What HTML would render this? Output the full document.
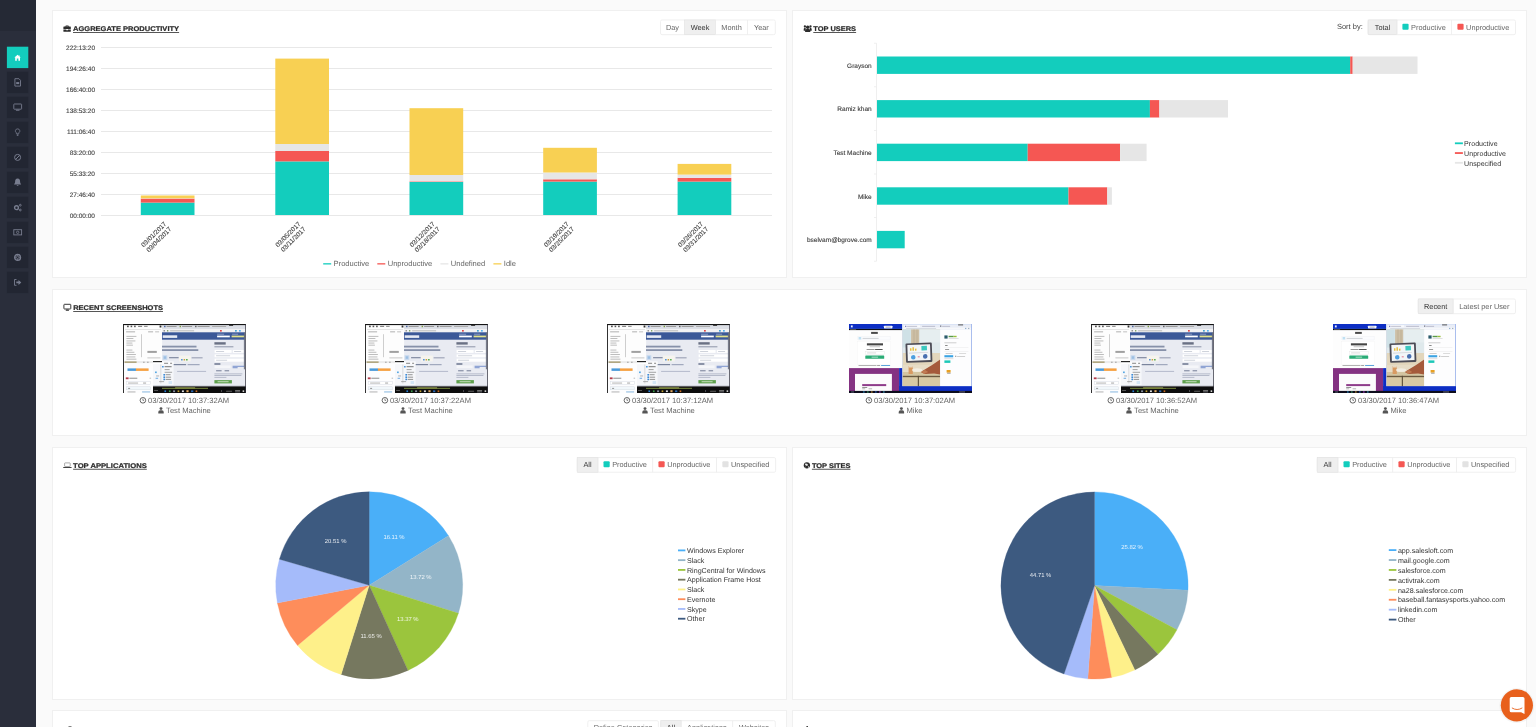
<!DOCTYPE html>
<html><head><meta charset="utf-8"><title>Dashboard</title>
<style>
html,body{margin:0;padding:0;}
body{width:1536px;height:727px;overflow:hidden;background:#fafafa;font-family:"Liberation Sans",sans-serif;position:relative;color:#444;}
#root{position:absolute;left:0;top:0;width:1536px;height:727px;will-change:transform;}
.sidebar{position:absolute;left:0;top:0;width:36px;height:727px;background:#2a2e3b;}
.sidebar .top{position:absolute;left:0;top:0;width:36px;height:31px;background:#252935;}
.panel{position:absolute;background:#fff;border:1px solid #f0f0f0;box-sizing:border-box;}
svg text{font-family:"Liberation Sans",sans-serif;text-rendering:geometricPrecision;}
#ov{position:absolute;left:0;top:0;}
.t{font-weight:bold;font-size:6.75px;fill:#2c2c2c;stroke:#2c2c2c;stroke-width:0.22px;}
.b{font-size:7.35px;fill:#666;}
.b.on{fill:#333;}
.lg{font-size:7.1px;fill:#333;}
.cap{font-size:7.6px;fill:#666;}
.ax{font-size:6.5px;fill:#444;stroke:#444;stroke-width:0.12px;}
.pl{font-size:5.9px;fill:#fff;fill-opacity:0.88;}
</style></head><body><div id="root">

<div class="sidebar"><div class="top"></div></div>
<div class="panel" style="left:52px;top:10px;width:735px;height:268px"></div>
<div class="panel" style="left:792px;top:10px;width:735px;height:268px"></div>
<div class="panel" style="left:52px;top:289px;width:1475px;height:147px"></div>
<div class="panel" style="left:52px;top:447px;width:735px;height:253px"></div>
<div class="panel" style="left:792px;top:447px;width:735px;height:253px"></div>
<div class="panel" style="left:52px;top:710px;width:735px;height:40px"></div>
<div class="panel" style="left:792px;top:710px;width:735px;height:40px"></div>
<svg id="ov" width="1536" height="727" viewBox="0 0 1536 727">
<g transform="translate(6.9,46.7)"><rect width="21.4" height="21.4" fill="#13cdbd"/><path d="M10.7 8.0 L7.5 10.9 L8.3 10.9 L8.3 14.1 L9.9 14.1 L9.9 11.9 L11.5 11.9 L11.5 14.1 L13.1 14.1 L13.1 10.9 L13.9 10.9 Z" fill="#fff"/><rect x="12.3" y="8.4" width="0.7" height="1.4" fill="#fff" opacity="0.5"/></g>
<g transform="translate(6.9,71.7)"><rect width="21.4" height="21.4" fill="#222632"/><path d="M8 7 H12 L13.6 8.6 V14.4 H8 Z" fill="none" stroke="#787d8f" stroke-width="0.9"/><rect x="9.3" y="10.4" width="3" height="2" fill="#787d8f"/></g>
<g transform="translate(6.9,96.7)"><rect width="21.4" height="21.4" fill="#222632"/><rect x="6.9" y="7.3" width="7.8" height="5.2" rx="0.5" fill="none" stroke="#787d8f" stroke-width="0.9"/><rect x="9" y="13" width="3.6" height="1" fill="#787d8f"/></g>
<g transform="translate(6.9,121.7)"><rect width="21.4" height="21.4" fill="#222632"/><path d="M10.7 7.2 a2.1 2.1 0 0 1 1.2 3.9 v1 h-2.4 v-1 a2.1 2.1 0 0 1 1.2 -3.9 Z" fill="none" stroke="#787d8f" stroke-width="0.8"/><rect x="9.9" y="12.7" width="1.6" height="1.4" fill="#787d8f"/></g>
<g transform="translate(6.9,146.7)"><rect width="21.4" height="21.4" fill="#222632"/><circle cx="10.7" cy="10.7" r="3" fill="none" stroke="#787d8f" stroke-width="1"/><path d="M8.6 12.8 L12.8 8.6" stroke="#787d8f" stroke-width="1"/></g>
<g transform="translate(6.9,171.7)"><rect width="21.4" height="21.4" fill="#222632"/><path d="M10.7 6.9 c2 0 2.5 1.6 2.5 3.2 c0 1.3 0.5 2 1.1 2.6 h-7.2 c0.6 -0.6 1.1 -1.3 1.1 -2.6 c0 -1.6 0.5 -3.2 2.5 -3.2 Z M9.8 13.2 h1.8 a0.9 0.9 0 0 1 -1.8 0 Z" fill="#787d8f"/></g>
<g transform="translate(6.9,196.7)"><rect width="21.4" height="21.4" fill="#222632"/><circle cx="9.6" cy="11" r="1.9" fill="none" stroke="#787d8f" stroke-width="1.4"/><circle cx="13.4" cy="8.5" r="0.9" fill="none" stroke="#787d8f" stroke-width="0.9"/><circle cx="13.4" cy="13.3" r="0.9" fill="none" stroke="#787d8f" stroke-width="0.9"/></g>
<g transform="translate(6.9,221.7)"><rect width="21.4" height="21.4" fill="#222632"/><rect x="6.9" y="8" width="7.8" height="5.2" fill="none" stroke="#787d8f" stroke-width="0.9"/><circle cx="10.8" cy="10.6" r="1.2" fill="none" stroke="#787d8f" stroke-width="0.8"/></g>
<g transform="translate(6.9,246.7)"><rect width="21.4" height="21.4" fill="#222632"/><circle cx="10.7" cy="10.7" r="2.9" fill="none" stroke="#787d8f" stroke-width="1.4"/><circle cx="10.7" cy="10.7" r="1.2" fill="none" stroke="#787d8f" stroke-width="0.7"/><path d="M10.7 7.4 V9.4 M10.7 12 V14 M7.4 10.7 H9.4 M12 10.7 H14" stroke="#787d8f" stroke-width="0.7"/></g>
<g transform="translate(6.9,271.7)"><rect width="21.4" height="21.4" fill="#222632"/><path d="M9.6 7.8 H7.6 V13.6 H9.6" fill="none" stroke="#787d8f" stroke-width="0.9"/><path d="M9.4 9.8 H11.6 V8.2 L14.4 10.7 L11.6 13.2 V11.6 H9.4 Z" fill="#787d8f"/></g>
<text class="t" x="73.0" y="31.2" textLength="106.1" lengthAdjust="spacingAndGlyphs">AGGREGATE PRODUCTIVITY</text><rect x="73.0" y="32.2" width="106.1" height="0.8" fill="#2c2c2c"/>
<text class="t" x="813.3" y="31.2" textLength="42.8" lengthAdjust="spacingAndGlyphs">TOP USERS</text><rect x="813.3" y="32.2" width="42.8" height="0.8" fill="#2c2c2c"/>
<text class="t" x="73.2" y="310.2" textLength="89.8" lengthAdjust="spacingAndGlyphs">RECENT SCREENSHOTS</text><rect x="73.2" y="311.2" width="89.8" height="0.8" fill="#2c2c2c"/>
<text class="t" x="73.1" y="467.8" textLength="73.7" lengthAdjust="spacingAndGlyphs">TOP APPLICATIONS</text><rect x="73.1" y="468.8" width="73.7" height="0.8" fill="#2c2c2c"/>
<text class="t" x="811.9" y="467.8" textLength="38.6" lengthAdjust="spacingAndGlyphs">TOP SITES</text><rect x="811.9" y="468.8" width="38.6" height="0.8" fill="#2c2c2c"/>
<text class="t" x="73.1" y="731.7" textLength="64.6" lengthAdjust="spacingAndGlyphs">TOP CATEGORIES</text><rect x="73.1" y="732.7" width="64.6" height="0.8" fill="#2c2c2c"/>
<rect x="68.5" y="726.2" width="3" height="1" fill="#666"/>
<text class="t" x="815" y="731.7" textLength="54.7" lengthAdjust="spacingAndGlyphs">ALARM ACTIVITY</text><rect x="815" y="732.7" width="54.7" height="0.8" fill="#2c2c2c"/>
<rect x="806.4" y="726" width="1.6" height="1" fill="#444"/>
<g fill="#2c2c2c"><path d="M63.4 27.1 a0.500 0.500 0 0 1 0.500 -0.500 h6.400 a0.500 0.500 0 0 1 0.500 0.500 v1.900 h-7.400 Z M63.400 29.500 h2.900 v0.700 h1.600 v-0.700 h2.900 v1.800 a0.500 0.500 0 0 1 -0.500 0.500 h-6.400 a0.500 0.500 0 0 1 -0.500 -0.500 Z M65.500 26.700 v-0.800 a0.500 0.500 0 0 1 0.500 -0.500 h2.200 a0.500 0.500 0 0 1 0.500 0.500 v0.800 h-0.800 v-0.550 h-1.600 v0.550 Z"/></g>
<g fill="#2c2c2c"><circle cx="807.7" cy="27.2" r="1.75"/><path d="M805.1 32.1 v-1.500 a1.600 1.600 0 0 1 1.600 -1.600 h2 a1.600 1.600 0 0 1 1.600 1.600 v1.500 Z"/><circle cx="804.900" cy="26.500" r="1.150"/><circle cx="810.500" cy="26.500" r="1.150"/><path d="M803.700 30.700 v-1.500 a1.100 1.100 0 0 1 1.100 -1.100 h0.900 v2.600 Z M811.700 30.700 v-1.500 a1.100 1.100 0 0 0 -1.100 -1.100 h-0.900 v2.600 Z"/></g>
<g><rect x="63.900" y="304.300" width="6.900" height="4.700" rx="0.600" fill="none" stroke="#2c2c2c" stroke-width="0.950"/><path d="M65.600 310.700 h3.500 l-0.500 -1.300 h-2.500 Z" fill="#2c2c2c"/></g>
<g><rect x="64.600" y="462.900" width="5.600" height="3.600" rx="0.500" fill="none" stroke="#888" stroke-width="0.700"/><path d="M63.200 467.100 h8.400 v0.300 a0.600 0.600 0 0 1 -0.600 0.600 h-7.200 a0.600 0.600 0 0 1 -0.600 -0.600 Z" fill="#444"/></g>
<g><circle cx="806.900" cy="465.300" r="3.150" fill="#2c2c2c"/><path d="M805.300 463.400 l1.800 0.300 l0.900 1 l-0.800 1.200 l-1.500 -0.300 l-0.700 -1.200 Z M808.200 466.300 l1 0.300 l-0.500 1.100 l-0.800 -0.300 Z M805 466.500 l0.800 0.400 l-0.200 0.900 Z" fill="#fff" opacity="0.900"/></g>
<rect x="660.5" y="19.950000000000003" width="114.8" height="14.7" rx="1.5" fill="#fff" stroke="#eeeeee" stroke-width="0.9"/>
<text class="b" x="672.50" y="29.70" text-anchor="middle">Day</text>
<rect x="684.5" y="19.950000000000003" width="31.1" height="14.7" fill="#efefef" stroke="#e2e2e2" stroke-width="0.6"/>
<text class="b on" x="700.05" y="29.70" text-anchor="middle">Week</text>
<rect x="715.2" y="19.950000000000003" width="0.8" height="14.7" fill="#ececec"/>
<text class="b" x="731.55" y="29.70" text-anchor="middle">Month</text>
<rect x="747.1" y="19.950000000000003" width="0.8" height="14.7" fill="#ececec"/>
<text class="b" x="761.40" y="29.70" text-anchor="middle">Year</text>
<rect x="1368.1" y="19.950000000000003" width="147.4" height="14.7" rx="1.5" fill="#fff" stroke="#eeeeee" stroke-width="0.9"/>
<rect x="1368.1" y="19.950000000000003" width="28.8" height="14.7" fill="#efefef" stroke="#e2e2e2" stroke-width="0.6"/>
<text class="b on" x="1382.50" y="29.70" text-anchor="middle">Total</text>
<rect x="1396.4999999999998" y="19.950000000000003" width="0.8" height="14.7" fill="#ececec"/>
<rect x="1402.40" y="23.65" width="6.2" height="6" rx="1" fill="#13cdbd"/>
<text class="b" x="1411.10" y="29.70">Productive</text>
<rect x="1451.0999999999997" y="19.950000000000003" width="0.8" height="14.7" fill="#ececec"/>
<rect x="1457.40" y="23.65" width="6.2" height="6" rx="1" fill="#f55753"/>
<text class="b" x="1466.10" y="29.70">Unproductive</text>
<text x="1336.9" y="28.6" font-size="7.5" fill="#444">Sort by:</text>
<rect x="1418.2" y="298.95000000000005" width="97.3" height="14.7" rx="1.5" fill="#fff" stroke="#eeeeee" stroke-width="0.9"/>
<rect x="1418.2" y="298.95000000000005" width="34.9" height="14.7" fill="#efefef" stroke="#e2e2e2" stroke-width="0.6"/>
<text class="b on" x="1435.65" y="308.70" text-anchor="middle">Recent</text>
<rect x="1452.7" y="298.95000000000005" width="0.8" height="14.7" fill="#ececec"/>
<text class="b" x="1484.30" y="308.70" text-anchor="middle">Latest per User</text>
<rect x="577.2" y="457.55" width="198.4" height="14.7" rx="1.5" fill="#fff" stroke="#eeeeee" stroke-width="0.9"/>
<rect x="577.2" y="457.55" width="20.7" height="14.7" fill="#efefef" stroke="#e2e2e2" stroke-width="0.6"/>
<text class="b on" x="587.55" y="467.30" text-anchor="middle">All</text>
<rect x="597.5000000000001" y="457.55" width="0.8" height="14.7" fill="#ececec"/>
<rect x="603.50" y="461.25" width="6.2" height="6" rx="1" fill="#13cdbd"/>
<text class="b" x="612.20" y="467.30">Productive</text>
<rect x="652.3000000000001" y="457.55" width="0.8" height="14.7" fill="#ececec"/>
<rect x="658.45" y="461.25" width="6.2" height="6" rx="1" fill="#f55753"/>
<text class="b" x="667.15" y="467.30">Unproductive</text>
<rect x="716.0000000000001" y="457.55" width="0.8" height="14.7" fill="#ececec"/>
<rect x="722.35" y="461.25" width="6.2" height="6" rx="1" fill="#e2e2e2"/>
<text class="b" x="731.05" y="467.30">Unspecified</text>
<rect x="1317.2" y="457.55" width="198.4" height="14.7" rx="1.5" fill="#fff" stroke="#eeeeee" stroke-width="0.9"/>
<rect x="1317.2" y="457.55" width="20.7" height="14.7" fill="#efefef" stroke="#e2e2e2" stroke-width="0.6"/>
<text class="b on" x="1327.55" y="467.30" text-anchor="middle">All</text>
<rect x="1337.5" y="457.55" width="0.8" height="14.7" fill="#ececec"/>
<rect x="1343.50" y="461.25" width="6.2" height="6" rx="1" fill="#13cdbd"/>
<text class="b" x="1352.20" y="467.30">Productive</text>
<rect x="1392.3" y="457.55" width="0.8" height="14.7" fill="#ececec"/>
<rect x="1398.45" y="461.25" width="6.2" height="6" rx="1" fill="#f55753"/>
<text class="b" x="1407.15" y="467.30">Unproductive</text>
<rect x="1456.0" y="457.55" width="0.8" height="14.7" fill="#ececec"/>
<rect x="1462.35" y="461.25" width="6.2" height="6" rx="1" fill="#e2e2e2"/>
<text class="b" x="1471.05" y="467.30">Unspecified</text>
<rect x="587.8" y="720.65" width="70.6" height="14.7" rx="1.5" fill="#fff" stroke="#eeeeee" stroke-width="0.9"/>
<text class="b" x="623.10" y="730.40" text-anchor="middle">Define Categories</text>
<rect x="660.8" y="720.65" width="114.5" height="14.7" rx="1.5" fill="#fff" stroke="#eeeeee" stroke-width="0.9"/>
<rect x="660.8" y="720.65" width="20.3" height="14.7" fill="#efefef" stroke="#e2e2e2" stroke-width="0.6"/>
<text class="b on" x="670.95" y="730.40" text-anchor="middle">All</text>
<rect x="680.6999999999999" y="720.65" width="0.8" height="14.7" fill="#ececec"/>
<text class="b" x="706.90" y="730.40" text-anchor="middle">Applications</text>
<rect x="732.3" y="720.65" width="0.8" height="14.7" fill="#ececec"/>
<text class="b" x="754.00" y="730.40" text-anchor="middle">Websites</text>
<rect x="101" y="47.0" width="671" height="1" fill="#e8e8e8"/>
<text class="ax" x="95" y="50.3" text-anchor="end">222:13:20</text>
<rect x="101" y="68.0" width="671" height="1" fill="#e8e8e8"/>
<text class="ax" x="95" y="71.3" text-anchor="end">194:26:40</text>
<rect x="101" y="89.0" width="671" height="1" fill="#e8e8e8"/>
<text class="ax" x="95" y="92.3" text-anchor="end">166:40:00</text>
<rect x="101" y="110.0" width="671" height="1" fill="#e8e8e8"/>
<text class="ax" x="95" y="113.3" text-anchor="end">138:53:20</text>
<rect x="101" y="131.0" width="671" height="1" fill="#e8e8e8"/>
<text class="ax" x="95" y="134.3" text-anchor="end">111:06:40</text>
<rect x="101" y="152.0" width="671" height="1" fill="#e8e8e8"/>
<text class="ax" x="95" y="155.3" text-anchor="end">83:20:00</text>
<rect x="101" y="173.0" width="671" height="1" fill="#e8e8e8"/>
<text class="ax" x="95" y="176.3" text-anchor="end">55:33:20</text>
<rect x="101" y="194.0" width="671" height="1" fill="#e8e8e8"/>
<text class="ax" x="95" y="197.3" text-anchor="end">27:46:40</text>
<rect x="101" y="215.0" width="671" height="1" fill="#e8e8e8"/>
<text class="ax" x="95" y="218.3" text-anchor="end">00:00:00</text>
<rect x="140.8" y="202.6" width="53.7" height="12.40" fill="#13cdbd"/>
<rect x="140.8" y="198.6" width="53.7" height="4.00" fill="#f55753"/>
<rect x="140.8" y="198.3" width="53.7" height="0.30" fill="#e6e6e6"/>
<rect x="140.8" y="195.5" width="53.7" height="2.80" fill="#f8d053"/>
<rect x="275.3" y="161.4" width="53.7" height="53.60" fill="#13cdbd"/>
<rect x="275.3" y="151" width="53.7" height="10.40" fill="#f55753"/>
<rect x="275.3" y="144" width="53.7" height="7.00" fill="#e6e6e6"/>
<rect x="275.3" y="58.6" width="53.7" height="85.40" fill="#f8d053"/>
<rect x="409.5" y="182" width="53.7" height="33.00" fill="#13cdbd"/>
<rect x="409.5" y="181.4" width="53.7" height="0.60" fill="#f55753"/>
<rect x="409.5" y="175" width="53.7" height="6.40" fill="#e6e6e6"/>
<rect x="409.5" y="108.2" width="53.7" height="66.80" fill="#f8d053"/>
<rect x="543.2" y="181.6" width="53.7" height="33.40" fill="#13cdbd"/>
<rect x="543.2" y="179.3" width="53.7" height="2.30" fill="#f55753"/>
<rect x="543.2" y="172.5" width="53.7" height="6.80" fill="#e6e6e6"/>
<rect x="543.2" y="147.8" width="53.7" height="24.70" fill="#f8d053"/>
<rect x="677.6" y="181.6" width="53.7" height="33.40" fill="#13cdbd"/>
<rect x="677.6" y="177.9" width="53.7" height="3.70" fill="#f55753"/>
<rect x="677.6" y="174.6" width="53.7" height="3.30" fill="#e6e6e6"/>
<rect x="677.6" y="163.9" width="53.7" height="10.70" fill="#f8d053"/>
<g transform="translate(164.0,221.6) rotate(-45)"><text class="ax" x="0" y="4" text-anchor="end">03/01/2017</text><text class="ax" x="0" y="11.2" text-anchor="end">03/04/2017</text></g>
<g transform="translate(298.2,221.6) rotate(-45)"><text class="ax" x="0" y="4" text-anchor="end">03/05/2017</text><text class="ax" x="0" y="11.2" text-anchor="end">03/11/2017</text></g>
<g transform="translate(432.4,221.6) rotate(-45)"><text class="ax" x="0" y="4" text-anchor="end">03/12/2017</text><text class="ax" x="0" y="11.2" text-anchor="end">03/18/2017</text></g>
<g transform="translate(566.6,221.6) rotate(-45)"><text class="ax" x="0" y="4" text-anchor="end">03/19/2017</text><text class="ax" x="0" y="11.2" text-anchor="end">03/25/2017</text></g>
<g transform="translate(700.8,221.6) rotate(-45)"><text class="ax" x="0" y="4" text-anchor="end">03/26/2017</text><text class="ax" x="0" y="11.2" text-anchor="end">03/31/2017</text></g>
<rect x="323.2" y="263.2" width="8" height="1.3" fill="#13cdbd"/><text x="333.59999999999997" y="266" font-size="7.55" fill="#666">Productive</text>
<rect x="377.3" y="263.2" width="8" height="1.3" fill="#f55753"/><text x="387.7" y="266" font-size="7.55" fill="#666">Unproductive</text>
<rect x="440.4" y="263.2" width="8" height="1.3" fill="#e6e6e6"/><text x="450.79999999999995" y="266" font-size="7.55" fill="#666">Undefined</text>
<rect x="493.4" y="263.2" width="8" height="1.3" fill="#f8d053"/><text x="503.79999999999995" y="266" font-size="7.55" fill="#666">Idle</text>
<rect x="876.2" y="43.2" width="0.8" height="218" fill="#ececec"/>
<rect x="874" y="42.8" width="2.5" height="0.8" fill="#ececec"/>
<rect x="874" y="86.4" width="2.5" height="0.8" fill="#ececec"/>
<rect x="874" y="130.0" width="2.5" height="0.8" fill="#ececec"/>
<rect x="874" y="173.6" width="2.5" height="0.8" fill="#ececec"/>
<rect x="874" y="217.2" width="2.5" height="0.8" fill="#ececec"/>
<rect x="874" y="260.8" width="2.5" height="0.8" fill="#ececec"/>
<rect x="877" y="56.5" width="473.2" height="17.4" fill="#13cdbd"/>
<rect x="1350.2" y="56.5" width="2.5" height="17.4" fill="#f55753"/>
<rect x="1352.7" y="56.5" width="64.8" height="17.4" fill="#e6e6e6"/>
<text class="ax" x="871.7" y="67.8" text-anchor="end" style="fill:#3a3a3a">Grayson</text>
<rect x="877" y="100.1" width="272.9" height="17.4" fill="#13cdbd"/>
<rect x="1149.9" y="100.1" width="9.5" height="17.4" fill="#f55753"/>
<rect x="1159.4" y="100.1" width="68.6" height="17.4" fill="#e6e6e6"/>
<text class="ax" x="871.7" y="111.4" text-anchor="end" style="fill:#3a3a3a">Ramiz khan</text>
<rect x="877" y="143.7" width="150.7" height="17.4" fill="#13cdbd"/>
<rect x="1027.7" y="143.7" width="92.4" height="17.4" fill="#f55753"/>
<rect x="1120.1" y="143.7" width="26.5" height="17.4" fill="#e6e6e6"/>
<text class="ax" x="871.7" y="155.0" text-anchor="end" style="fill:#3a3a3a">Test Machine</text>
<rect x="877" y="187.3" width="191.5" height="17.4" fill="#13cdbd"/>
<rect x="1068.5" y="187.3" width="38.8" height="17.4" fill="#f55753"/>
<rect x="1107.3" y="187.3" width="4.6" height="17.4" fill="#e6e6e6"/>
<text class="ax" x="871.7" y="198.6" text-anchor="end" style="fill:#3a3a3a">Mike</text>
<rect x="877" y="230.9" width="27.7" height="17.4" fill="#13cdbd"/>
<text class="ax" x="871.7" y="242.2" text-anchor="end" style="fill:#3a3a3a">bselvam@bgrove.com</text>
<rect x="1454.9" y="142.40" width="8" height="1.8" fill="#13cdbd"/><text class="lg" x="1464.1" y="146.10">Productive</text>
<rect x="1454.9" y="152.15" width="8" height="1.8" fill="#f55753"/><text class="lg" x="1464.1" y="155.85">Unproductive</text>
<rect x="1454.9" y="161.90" width="8" height="1.8" fill="#e6e6e6"/><text class="lg" x="1464.1" y="165.60">Unspecified</text>
<path d="M369.2 585.3 L369.20 491.80 A93.5 93.5 0 0 1 448.49 535.75 Z" fill="#4aaff8" stroke="#4aaff8" stroke-width="0.3"/>
<text class="pl" x="394.0" y="538.9" text-anchor="middle">16.11 %</text>
<path d="M369.2 585.3 L448.49 535.75 A93.5 93.5 0 0 1 458.42 613.26 Z" fill="#93b5c8" stroke="#93b5c8" stroke-width="0.3"/>
<text class="pl" x="420.8" y="579.0" text-anchor="middle">13.72 %</text>
<path d="M369.2 585.3 L458.42 613.26 A93.5 93.5 0 0 1 407.97 670.38 Z" fill="#9bc53d" stroke="#9bc53d" stroke-width="0.3"/>
<text class="pl" x="407.8" y="620.9" text-anchor="middle">13.37 %</text>
<path d="M369.2 585.3 L407.97 670.38 A93.5 93.5 0 0 1 341.08 674.47 Z" fill="#76785f" stroke="#76785f" stroke-width="0.3"/>
<text class="pl" x="371.1" y="638.2" text-anchor="middle">11.65 %</text>
<path d="M369.2 585.3 L341.08 674.47 A93.5 93.5 0 0 1 297.57 645.40 Z" fill="#fef08a" stroke="#fef08a" stroke-width="0.3"/>
<path d="M369.2 585.3 L297.57 645.40 A93.5 93.5 0 0 1 277.39 602.98 Z" fill="#fe8d5b" stroke="#fe8d5b" stroke-width="0.3"/>
<path d="M369.2 585.3 L277.39 602.98 A93.5 93.5 0 0 1 279.41 559.21 Z" fill="#a5bbfa" stroke="#a5bbfa" stroke-width="0.3"/>
<path d="M369.2 585.3 L279.41 559.21 A93.5 93.5 0 0 1 369.20 491.80 Z" fill="#3d5a80" stroke="#3d5a80" stroke-width="0.3"/>
<text class="pl" x="335.6" y="542.7" text-anchor="middle">20.51 %</text>
<path d="M1094.5 585.5 L1094.50 491.90 A93.6 93.6 0 0 1 1187.98 590.32 Z" fill="#4aaff8" stroke="#4aaff8" stroke-width="0.3"/>
<text class="pl" x="1132" y="548.7" text-anchor="middle">25.82 %</text>
<path d="M1094.5 585.5 L1187.98 590.32 A93.6 93.6 0 0 1 1176.91 629.87 Z" fill="#93b5c8" stroke="#93b5c8" stroke-width="0.3"/>
<path d="M1094.5 585.5 L1176.91 629.87 A93.6 93.6 0 0 1 1157.98 654.29 Z" fill="#9bc53d" stroke="#9bc53d" stroke-width="0.3"/>
<path d="M1094.5 585.5 L1157.98 654.29 A93.6 93.6 0 0 1 1134.80 669.98 Z" fill="#76785f" stroke="#76785f" stroke-width="0.3"/>
<path d="M1094.5 585.5 L1134.80 669.98 A93.6 93.6 0 0 1 1111.56 677.53 Z" fill="#fef08a" stroke="#fef08a" stroke-width="0.3"/>
<path d="M1094.5 585.5 L1111.56 677.53 A93.6 93.6 0 0 1 1087.81 678.86 Z" fill="#fe8d5b" stroke="#fe8d5b" stroke-width="0.3"/>
<path d="M1094.5 585.5 L1087.81 678.86 A93.6 93.6 0 0 1 1063.97 673.98 Z" fill="#a5bbfa" stroke="#a5bbfa" stroke-width="0.3"/>
<path d="M1094.5 585.5 L1063.97 673.98 A93.6 93.6 0 0 1 1094.50 491.90 Z" fill="#3d5a80" stroke="#3d5a80" stroke-width="0.3"/>
<text class="pl" x="1040.5" y="576.7" text-anchor="middle">44.71 %</text>
<rect x="678" y="549.50" width="7.4" height="1.8" fill="#4aaff8"/><text class="lg" x="687" y="553.10">Windows Explorer</text>
<rect x="678" y="559.26" width="7.4" height="1.8" fill="#93b5c8"/><text class="lg" x="687" y="562.86">Slack</text>
<rect x="678" y="569.02" width="7.4" height="1.8" fill="#9bc53d"/><text class="lg" x="687" y="572.62">RingCentral for Windows</text>
<rect x="678" y="578.78" width="7.4" height="1.8" fill="#76785f"/><text class="lg" x="687" y="582.38">Application Frame Host</text>
<rect x="678" y="588.54" width="7.4" height="1.8" fill="#fef08a"/><text class="lg" x="687" y="592.14">Slack</text>
<rect x="678" y="598.30" width="7.4" height="1.8" fill="#fe8d5b"/><text class="lg" x="687" y="601.90">Evernote</text>
<rect x="678" y="608.06" width="7.4" height="1.8" fill="#a5bbfa"/><text class="lg" x="687" y="611.66">Skype</text>
<rect x="678" y="617.82" width="7.4" height="1.8" fill="#3d5a80"/><text class="lg" x="687" y="621.42">Other</text>
<rect x="1388.8" y="549.20" width="7.6" height="1.8" fill="#4aaff8"/><text class="lg" x="1397.9" y="552.80">app.salesloft.com</text>
<rect x="1388.8" y="559.13" width="7.6" height="1.8" fill="#93b5c8"/><text class="lg" x="1397.9" y="562.73">mail.google.com</text>
<rect x="1388.8" y="569.06" width="7.6" height="1.8" fill="#9bc53d"/><text class="lg" x="1397.9" y="572.66">salesforce.com</text>
<rect x="1388.8" y="578.99" width="7.6" height="1.8" fill="#76785f"/><text class="lg" x="1397.9" y="582.59">activtrak.com</text>
<rect x="1388.8" y="588.92" width="7.6" height="1.8" fill="#fef08a"/><text class="lg" x="1397.9" y="592.52">na28.salesforce.com</text>
<rect x="1388.8" y="598.85" width="7.6" height="1.8" fill="#fe8d5b"/><text class="lg" x="1397.9" y="602.45">baseball.fantasysports.yahoo.com</text>
<rect x="1388.8" y="608.78" width="7.6" height="1.8" fill="#a5bbfa"/><text class="lg" x="1397.9" y="612.38">linkedin.com</text>
<rect x="1388.8" y="618.71" width="7.6" height="1.8" fill="#3d5a80"/><text class="lg" x="1397.9" y="622.31">Other</text>
<defs>
<filter id="bl" x="-2%" y="-2%" width="104%" height="104%"><feGaussianBlur stdDeviation="0.42"/></filter>
<clipPath id="cp"><rect width="123" height="69"/></clipPath>
<g id="thA"><g clip-path="url(#cp)"><g filter="url(#bl)">
<rect x="-2" y="-2" width="127" height="73" fill="#e9ebf2"/>
<rect x="0" y="0" width="39" height="37.5" fill="#fdfdfd"/>
<rect x="4" y="1.6" width="1.6" height="1.6" fill="#444"/><rect x="7.500" y="1.6" width="1.6" height="1.6" fill="#555"/><rect x="11" y="1.6" width="1.6" height="1.6" fill="#555"/><rect x="15" y="1.8" width="4" height="1.2" fill="#888"/><rect x="21" y="1.8" width="3.500" height="1.2" fill="#999"/><rect x="36.500" y="1.500" width="1.800" height="2" fill="#333"/>
<rect x="2" y="5.400" width="36" height="0.500" fill="#ccc"/>
<rect x="3" y="7.400" width="9" height="0.900" fill="#aaa"/><rect x="25" y="7.400" width="5" height="0.900" fill="#aaa"/><rect x="32" y="7.400" width="4" height="0.900" fill="#bbb"/>
<g fill="#b6b6b6"><rect x="3.300" y="11.900" width="10" height="0.900"/><rect x="3.300" y="14" width="7" height="0.900"/><rect x="3.300" y="16.500" width="9" height="0.900"/><rect x="3.300" y="18.600" width="6" height="0.900"/><rect x="3.300" y="20.700" width="6.500" height="0.900"/><rect x="3.300" y="25.600" width="6" height="0.900"/><rect x="3.300" y="27.800" width="8" height="0.900"/><rect x="3.300" y="30.100" width="9.500" height="0.900"/><rect x="3.300" y="32.500" width="9" height="0.900"/><rect x="3.300" y="34.700" width="10" height="0.900"/></g>
<rect x="17.900" y="10.200" width="0.600" height="23" fill="#b0b0b0"/>
<rect x="24.300" y="26.900" width="9.400" height="2" fill="#a0a0a0"/>
<rect x="24.300" y="33.500" width="13" height="0.800" fill="#bbb"/>
<rect x="39" y="0" width="84" height="5" fill="#dcdfe6"/>
<rect x="41" y="1.800" width="1.400" height="1.400" fill="#3b5998"/><rect x="56.500" y="1.800" width="1.400" height="1.400" fill="#7a9a3a"/><rect x="72" y="1.800" width="1.400" height="1.400" fill="#555"/><rect x="43.500" y="2" width="10" height="1" fill="#999"/><rect x="59" y="2" width="10" height="1" fill="#999"/><rect x="74.500" y="2" width="12" height="1" fill="#999"/><rect x="89" y="2" width="14" height="1" fill="#aaa"/>
<rect x="106" y="0.800" width="4" height="1.200" fill="#444"/>
<rect x="39" y="5" width="84" height="3.300" fill="#f2f2f4"/>
<rect x="40.500" y="6.200" width="1.200" height="1.200" fill="#666"/><rect x="44" y="6.200" width="1.200" height="1.200" fill="#5a8a3a"/><rect x="47" y="6.300" width="24" height="1" fill="#bbb"/>
<rect x="97" y="6" width="1.600" height="1.600" fill="#d33"/><rect x="112" y="6" width="1.600" height="1.600" fill="#39c"/><rect x="116" y="6" width="1.600" height="1.600" fill="#4ae"/>
<rect x="38.900" y="8.300" width="82.600" height="7.400" fill="#3b5998"/>
<rect x="39.600" y="11.300" width="14.500" height="2.600" fill="#e6eaf4"/>
<rect x="94" y="9.800" width="7" height="0.700" fill="#a9b6d6"/><rect x="109" y="9.800" width="6" height="0.700" fill="#a9b6d6"/>
<rect x="94" y="11.600" width="12.700" height="1.700" fill="#fff"/><rect x="108.500" y="11.600" width="13" height="1.700" fill="#e3e38c"/>
<rect x="38.900" y="21.700" width="34.500" height="1.800" fill="#8791a9"/><rect x="38.900" y="25.200" width="36.300" height="1.800" fill="#8791a9"/>
<rect x="39.500" y="31.200" width="4.700" height="4.700" fill="#c7d9ee"/><rect x="40.600" y="32.300" width="2.500" height="2.500" fill="#9dbfe3"/>
<rect x="46" y="33" width="9.500" height="1.300" fill="#8a92a8"/>
<rect x="55.900" y="31.600" width="11.800" height="5.800" fill="#f6f4ee"/><rect x="58" y="35" width="1.500" height="1.500" fill="#4a8ad8"/><rect x="60.500" y="35" width="1.500" height="1.500" fill="#c8a040"/><rect x="63" y="35" width="1.500" height="1.500" fill="#4aa84a"/>
<rect x="68.500" y="33.200" width="11" height="1.200" fill="#a0a6b8"/>
<rect x="50" y="40" width="13" height="1.200" fill="#7a849c"/><rect x="64.500" y="40.100" width="12" height="1.100" fill="#9aa2b8"/>
<rect x="54" y="46.900" width="29" height="1" fill="#b4bacb"/>
<rect x="91.300" y="18.200" width="11.300" height="2.400" fill="#6a7184"/>
<rect x="91.300" y="22.300" width="19" height="1" fill="#8d94a8"/>
<rect x="91.500" y="26" width="17" height="2.900" fill="#fff"/><rect x="109.700" y="26" width="11.700" height="2.900" fill="#fff"/>
<rect x="91.500" y="30.400" width="29.900" height="2.800" fill="#fff"/><rect x="91.500" y="34.700" width="29.900" height="3" fill="#fff"/>
<rect x="93" y="27" width="8" height="0.800" fill="#c4c8d2"/><rect x="111" y="27" width="7" height="0.800" fill="#c4c8d2"/><rect x="93" y="31.400" width="14" height="0.800" fill="#c4c8d2"/><rect x="93" y="35.800" width="11" height="0.800" fill="#c4c8d2"/>
<rect x="91.300" y="39.400" width="6" height="1.200" fill="#4c5876"/>
<rect x="91.500" y="41.400" width="16" height="2.700" fill="#f5f6f9"/><rect x="109.500" y="41.800" width="11.500" height="0.900" fill="#6a86c8"/><rect x="109.500" y="43.300" width="5" height="0.900" fill="#6a86c8"/>
<rect x="93" y="46" width="5.500" height="1.400" fill="#959cb0"/><rect x="101.500" y="46" width="4.500" height="1.400" fill="#959cb0"/>
<rect x="91.300" y="49.500" width="28" height="0.800" fill="#a8aec0"/><rect x="91.300" y="51.200" width="27" height="0.800" fill="#a8aec0"/><rect x="91.300" y="52.900" width="12" height="0.800" fill="#a8aec0"/>
<rect x="91.300" y="56.100" width="17.500" height="3.300" fill="#5fa04e"/><rect x="94.500" y="57.300" width="11" height="0.900" fill="#cfe5c8"/>
<rect x="120.800" y="8.300" width="0.900" height="37" fill="#5a5f70"/>
<rect x="0" y="37.100" width="30" height="32" fill="#fdfdfe"/>
<rect x="0" y="37.100" width="30" height="2" fill="#ececec"/><rect x="1.500" y="37.600" width="12" height="1" fill="#8a7a3a"/><rect x="20" y="37.800" width="1.500" height="0.700" fill="#777"/><rect x="24" y="37.800" width="1.500" height="0.700" fill="#777"/>
<rect x="4.400" y="44.400" width="8.600" height="2.500" fill="#4a9ada"/><rect x="12.800" y="44.400" width="12.700" height="2.500" fill="#f6a040"/>
<rect x="2.700" y="53.400" width="2.800" height="1.800" fill="#b33a4a"/><rect x="6.200" y="53.700" width="8" height="1.100" fill="#999"/><rect x="26.500" y="53.700" width="1.500" height="1" fill="#bbb"/>
<rect x="3.200" y="57.500" width="24" height="3" fill="#fff" stroke="#cfd6de" stroke-width="0.400"/><rect x="5" y="58.600" width="10" height="0.900" fill="#aaa"/><rect x="20" y="58.600" width="3" height="0.900" fill="#999"/>
<rect x="3.200" y="62.800" width="24" height="3" fill="#f1f7fb" stroke="#cfd6de" stroke-width="0.400"/><rect x="5" y="63.900" width="2" height="0.900" fill="#888"/>
<rect x="4.400" y="67.500" width="8" height="0.900" fill="#aaa"/><rect x="19" y="67.500" width="8" height="0.900" fill="#7ab0dc"/>
<rect x="29.900" y="37.100" width="20.600" height="24" fill="#f6f7fa"/>
<rect x="29.900" y="37.100" width="9" height="1.300" fill="#111"/>
<rect x="29.900" y="38.400" width="20.600" height="1.800" fill="#fff"/><rect x="41" y="38.800" width="4" height="0.900" fill="#777"/><rect x="47" y="38.800" width="2" height="0.900" fill="#777"/>
<rect x="37.500" y="40.500" width="0.600" height="19" fill="#c8c8c8"/>
<rect x="39" y="42" width="1.500" height="1.500" fill="#3a8ad8"/><rect x="41.500" y="42.200" width="7" height="1" fill="#777"/>
<rect x="41.500" y="45.200" width="5" height="0.900" fill="#999"/>
<rect x="32" y="47.500" width="1.600" height="1.600" fill="#49a0e0"/><rect x="41.500" y="47.800" width="7.500" height="0.900" fill="#999"/>
<rect x="40.300" y="50" width="1.600" height="1.600" fill="#3a8ad8"/><rect x="42.500" y="50.300" width="5" height="0.900" fill="#888"/>
<rect x="33" y="51.500" width="3" height="0.900" fill="#aaa"/><rect x="40.300" y="52.400" width="1.600" height="1.600" fill="#3a8ad8"/><rect x="42.500" y="52.700" width="5.500" height="0.900" fill="#888"/>
<rect x="32.500" y="53.800" width="2.500" height="0.900" fill="#5aa0e0"/><rect x="40.300" y="54.600" width="1.600" height="1.600" fill="#3a8ad8"/><rect x="42.500" y="54.900" width="5.500" height="0.900" fill="#888"/>
<rect x="36" y="57.300" width="5" height="0.800" fill="#999"/><rect x="45.500" y="57" width="3.500" height="3" fill="#d4e6f6"/>
<rect x="29.900" y="61.200" width="93.100" height="1.500" fill="#cfd3da"/>
<rect x="29.900" y="62.400" width="93.100" height="6.600" fill="#0a0a0c"/>
<rect x="38.900" y="63.800" width="46" height="1" fill="#7c8c3a"/><rect x="52" y="63.500" width="20" height="0.700" fill="#b8c060"/>
<rect x="31" y="66" width="4" height="1" fill="#555"/>
<rect x="41.300" y="66.400" width="1.700" height="1.700" fill="#2a7fd0"/><rect x="45.800" y="66.400" width="1.700" height="1.700" fill="#3a9a4a"/><rect x="50" y="66.400" width="2" height="1.700" fill="#8890a0"/><rect x="54.500" y="66.400" width="1.700" height="1.700" fill="#c0a030"/><rect x="58.800" y="66.400" width="2" height="1.700" fill="#ddd"/><rect x="63.300" y="66.200" width="2.200" height="2" fill="#e0a860"/><rect x="68" y="66.400" width="2.200" height="1.700" fill="#2a6ab8"/><rect x="72.500" y="66.400" width="1.700" height="1.700" fill="#c86a20"/>
<rect x="98" y="66.500" width="1" height="1" fill="#999"/><rect x="103" y="66.800" width="6" height="0.800" fill="#777"/><rect x="112" y="66.300" width="5" height="0.800" fill="#999"/><rect x="112" y="67.500" width="5" height="0.800" fill="#888"/><rect x="119.500" y="66.300" width="1.600" height="1.700" fill="#ccc"/>
</g>
<rect x="0" y="0" width="123" height="1.100" fill="#141414"/><rect x="0" y="0" width="0.900" height="69" fill="#1a1a1a"/><rect x="122.200" y="0" width="0.800" height="69" fill="#30303c"/>
</g></g>
<g id="thB"><g clip-path="url(#cp)"><g filter="url(#bl)">
<rect x="-2" y="-2" width="127" height="73" fill="#fdfdfd"/>
<rect x="-2" y="-2" width="55" height="6.900" fill="#0b2fc4"/>
<rect x="1.800" y="1.400" width="1.800" height="2" fill="#e8ecff"/>
<rect x="34.900" y="1.800" width="8.400" height="2.600" rx="0.400" fill="#f4f6ff"/><rect x="36.500" y="2.700" width="5" height="0.800" fill="#99a"/>
<rect x="-2" y="4.900" width="55" height="1.400" fill="#0c0c14"/><rect x="1" y="5.300" width="6" height="0.600" fill="#777"/>
<rect x="0" y="6.300" width="53" height="38" fill="#fdfdfd"/>
<rect x="22" y="7.900" width="6.700" height="2" fill="#4a4a4a"/>
<rect x="8.800" y="12.500" width="32.200" height="3.500" fill="#fbfcfe" stroke="#e6eaf0" stroke-width="0.300"/><rect x="9.500" y="13" width="2.600" height="2.500" fill="#bfe0f2"/><rect x="13.500" y="13.900" width="16" height="0.800" fill="#c4c8cc"/>
<rect x="8.500" y="17.500" width="33" height="23" fill="#fff" stroke="#f0f0f0" stroke-width="0.300"/>
<rect x="17.800" y="19.300" width="16.100" height="2.100" fill="#444"/>
<rect x="20.500" y="22.400" width="10.500" height="0.800" fill="#b8b8b8"/>
<rect x="17.500" y="25" width="8" height="1" fill="#999"/><rect x="26" y="25" width="7.500" height="1" fill="#555"/>
<rect x="16.600" y="27.700" width="18.500" height="2.500" fill="#fff" stroke="#ddd" stroke-width="0.300"/><rect x="18" y="28.600" width="9" height="0.700" fill="#ccc"/>
<rect x="16.200" y="31.500" width="18.900" height="3.300" rx="0.400" fill="#2bac76"/><rect x="22.500" y="32.700" width="6.500" height="0.900" fill="#b8e6d0"/>
<rect x="9.400" y="41" width="18" height="0.900" fill="#aaa"/><rect x="28" y="41" width="3" height="0.900" fill="#999"/><rect x="32" y="41" width="9" height="0.900" fill="#4a9ad8"/>
<rect x="-2" y="44.100" width="52" height="27" fill="#843282"/>
<rect x="5.900" y="49.900" width="36.900" height="21" fill="#fcfbfc"/>
<rect x="13.100" y="60.100" width="24" height="2" fill="#8e3a8a"/>
<rect x="13.100" y="63" width="5" height="0.800" fill="#777"/><rect x="13.100" y="64.500" width="3" height="0.700" fill="#999"/><rect x="19.500" y="64.500" width="3.500" height="0.700" fill="#999"/>
<rect x="50" y="44.100" width="3.500" height="27" fill="#0b2fc4"/>
<rect x="53.200" y="-2" width="72" height="66" fill="#c3d3f4"/>
<rect x="53.700" y="0.400" width="68.600" height="5.200" fill="#e9edf6"/>
<rect x="55" y="1.200" width="16" height="2" fill="#f8f9fc"/><rect x="56" y="1.800" width="1.200" height="1" fill="#55a"/><rect x="58" y="1.900" width="10" height="0.700" fill="#aab"/><rect x="73" y="1.900" width="13" height="0.700" fill="#aab"/><rect x="91" y="1.600" width="1.200" height="1" fill="#445"/><rect x="93" y="1.900" width="8" height="0.700" fill="#aab"/>
<rect x="109" y="0.400" width="5" height="1" fill="#555"/>
<rect x="54" y="3.600" width="68" height="1.800" fill="#f6f7fa"/><rect x="57" y="4.100" width="30" height="0.800" fill="#d0d4dc"/><rect x="116" y="3.900" width="1.200" height="1.200" fill="#8ac"/><rect x="119" y="3.900" width="1.200" height="1.200" fill="#9ab"/>
<rect x="53.700" y="5.500" width="37.400" height="56.800" fill="#d9ccb0"/>
<rect x="53.700" y="5.500" width="37.400" height="24" fill="#dfe9ec"/>
<rect x="53.700" y="5.500" width="8" height="18" fill="#cfe1e6"/>
<rect x="62" y="5.500" width="8.200" height="19" fill="#cdbfa6"/><rect x="64.500" y="5.500" width="0.800" height="19" fill="#bcae94"/><rect x="67.500" y="5.500" width="0.800" height="19" fill="#bcae94"/>
<rect x="70.500" y="5.500" width="20.600" height="13" fill="#e6eef0"/>
<rect x="53.700" y="29" width="37.400" height="12" fill="#e2d6bc"/>
<g transform="rotate(-2 70 29)"><rect x="56.700" y="19" width="26.300" height="19.300" rx="1" fill="#4c4b55"/><rect x="58.500" y="20.700" width="22.700" height="15.800" fill="#f3f6f8"/>
<rect x="61" y="24" width="1.500" height="2.500" fill="#e8c040"/><rect x="63.500" y="23" width="1.500" height="3.500" fill="#e8c040"/><rect x="66" y="24.500" width="1.500" height="2" fill="#e8c040"/><rect x="72.500" y="22" width="5.500" height="4.500" fill="#3cc8c0"/>
<rect x="60" y="28.500" width="19" height="0.600" fill="#c8ccd0"/>
<circle cx="64" cy="33" r="2.300" fill="#4d9fe0"/><circle cx="76" cy="32.600" r="2.300" fill="#4a6fb0"/><rect x="68.500" y="32" width="2" height="1.500" fill="#e8a0b0"/></g>
<rect x="53.700" y="41" width="37.400" height="21.300" fill="#d3c4a0"/>
<rect x="53.700" y="41" width="37.400" height="7" fill="#e6dcc6"/>
<rect x="59.500" y="42" width="4.200" height="8" fill="#d89a62"/><rect x="59.500" y="42" width="4.200" height="1.500" fill="#e8d8c0"/>
<ellipse cx="68" cy="46" rx="5" ry="1.800" fill="#f2ede2"/>
<path d="M91.100 35.500 L83 41 L74 46.500 L72 48.500 L76 50 L85 49.500 L91.100 50.500 Z" fill="#a55a3a"/>
<path d="M72 47.500 L76 46 L79 48 L75 50 Z" fill="#c07a52"/>
<rect x="53.700" y="51.800" width="37.400" height="1.600" fill="#6a5a40"/>
<rect x="53.700" y="53.400" width="37.400" height="9" fill="#d8c9a4"/><rect x="68.700" y="51.800" width="1.100" height="10.500" fill="#5a4c36"/>
<rect x="91" y="5.500" width="31.300" height="56.800" fill="#fdfdfe"/>
<rect x="95.300" y="11.400" width="3.200" height="3.200" fill="#2a5a6a"/><rect x="99.500" y="11.800" width="5" height="1.400" fill="#5a9a4a"/><rect x="104.500" y="11.800" width="3" height="1.400" fill="#9ac03a"/><rect x="99.500" y="14" width="10" height="0.600" fill="#ccc"/>
<rect x="95.300" y="18.500" width="12" height="0.700" fill="#bbb"/>
<rect x="96" y="21" width="2.500" height="1" fill="#888"/><rect x="95.300" y="23" width="24" height="0.300" fill="#ddd"/>
<rect x="96" y="25" width="4" height="1" fill="#999"/><rect x="95.300" y="27" width="24" height="0.300" fill="#ddd"/>
<rect x="96.500" y="29.200" width="7" height="0.700" fill="#bbb"/><rect x="110" y="29.200" width="7" height="0.700" fill="#ccc"/>
<rect x="95.300" y="31.200" width="8.800" height="2.100" fill="#3aa3e3"/><rect x="106" y="31.700" width="1.200" height="1.200" fill="#999"/><rect x="108" y="32" width="8" height="0.700" fill="#bbb"/>
<rect x="95.300" y="34.500" width="9" height="0.600" fill="#ccc"/>
<rect x="95.300" y="36.400" width="6" height="2.500" fill="#1fc8b8"/>
<rect x="97.500" y="46" width="4" height="2.600" fill="#e8a020"/><rect x="98" y="48.800" width="3.500" height="0.800" fill="#888"/>
<rect x="121.900" y="0" width="0.600" height="62.200" fill="#8aa6e8"/>
<rect x="50" y="62.200" width="75" height="5" fill="#0b2fc4"/>
<rect x="-2" y="66.900" width="127" height="4" fill="#07071a"/>
<rect x="2" y="67.500" width="3" height="1" fill="#667"/><rect x="14" y="67.400" width="1.500" height="1.200" fill="#39c"/><rect x="18" y="67.400" width="1.500" height="1.200" fill="#4a6"/><rect x="22" y="67.400" width="1.500" height="1.200" fill="#c93"/><rect x="26" y="67.400" width="1.500" height="1.200" fill="#36c"/><rect x="30" y="67.400" width="1.500" height="1.200" fill="#a4c"/><rect x="34" y="67.400" width="1.500" height="1.200" fill="#4ac"/>
<rect x="110" y="67.600" width="6" height="0.800" fill="#889"/>
</g></g></g>
</defs>
<use href="#thA" x="123.1" y="324"/>
<circle cx="142.9" cy="400.3" r="2.8" fill="none" stroke="#555" stroke-width="0.9"/><path d="M142.9 398.6 v1.8 h1.2" fill="none" stroke="#555" stroke-width="0.7"/>
<text class="cap" x="148.0" y="403">03/30/2017 10:37:32AM</text>
<circle cx="161.0" cy="408.6" r="1.45" fill="#555"/><path d="M158.3 413.4 v-1.4 a1.8 1.8 0 0 1 1.8 -1.8 h1.8 a1.8 1.8 0 0 1 1.8 1.8 v1.4 Z" fill="#555"/>
<text class="cap" x="166.1" y="413.3">Test Machine</text>
<use href="#thA" x="365.1" y="324"/>
<circle cx="384.9" cy="400.3" r="2.8" fill="none" stroke="#555" stroke-width="0.9"/><path d="M384.9 398.6 v1.8 h1.2" fill="none" stroke="#555" stroke-width="0.7"/>
<text class="cap" x="389.9" y="403">03/30/2017 10:37:22AM</text>
<circle cx="403.0" cy="408.6" r="1.45" fill="#555"/><path d="M400.3 413.4 v-1.4 a1.8 1.8 0 0 1 1.8 -1.8 h1.8 a1.8 1.8 0 0 1 1.8 1.8 v1.4 Z" fill="#555"/>
<text class="cap" x="408.1" y="413.3">Test Machine</text>
<use href="#thA" x="607.1" y="324"/>
<circle cx="626.9" cy="400.3" r="2.8" fill="none" stroke="#555" stroke-width="0.9"/><path d="M626.9 398.6 v1.8 h1.2" fill="none" stroke="#555" stroke-width="0.7"/>
<text class="cap" x="632.0" y="403">03/30/2017 10:37:12AM</text>
<circle cx="645.0" cy="408.6" r="1.45" fill="#555"/><path d="M642.3 413.4 v-1.4 a1.8 1.8 0 0 1 1.8 -1.8 h1.8 a1.8 1.8 0 0 1 1.8 1.8 v1.4 Z" fill="#555"/>
<text class="cap" x="650.1" y="413.3">Test Machine</text>
<use href="#thB" x="849.1" y="324"/>
<circle cx="868.9" cy="400.3" r="2.8" fill="none" stroke="#555" stroke-width="0.9"/><path d="M868.9 398.6 v1.8 h1.2" fill="none" stroke="#555" stroke-width="0.7"/>
<text class="cap" x="874.0" y="403">03/30/2017 10:37:02AM</text>
<circle cx="901.4" cy="408.6" r="1.45" fill="#555"/><path d="M898.7 413.4 v-1.4 a1.8 1.8 0 0 1 1.8 -1.8 h1.8 a1.8 1.8 0 0 1 1.8 1.8 v1.4 Z" fill="#555"/>
<text class="cap" x="906.5" y="413.3">Mike</text>
<use href="#thA" x="1091.1" y="324"/>
<circle cx="1110.8" cy="400.3" r="2.8" fill="none" stroke="#555" stroke-width="0.9"/><path d="M1110.8 398.6 v1.8 h1.2" fill="none" stroke="#555" stroke-width="0.7"/>
<text class="cap" x="1116.0" y="403">03/30/2017 10:36:52AM</text>
<circle cx="1129.0" cy="408.6" r="1.45" fill="#555"/><path d="M1126.3 413.4 v-1.4 a1.8 1.8 0 0 1 1.8 -1.8 h1.8 a1.8 1.8 0 0 1 1.8 1.8 v1.4 Z" fill="#555"/>
<text class="cap" x="1134.1" y="413.3">Test Machine</text>
<use href="#thB" x="1333.1" y="324"/>
<circle cx="1352.8" cy="400.3" r="2.8" fill="none" stroke="#555" stroke-width="0.9"/><path d="M1352.8 398.6 v1.8 h1.2" fill="none" stroke="#555" stroke-width="0.7"/>
<text class="cap" x="1358.0" y="403">03/30/2017 10:36:47AM</text>
<circle cx="1385.4" cy="408.6" r="1.45" fill="#555"/><path d="M1382.7 413.4 v-1.4 a1.8 1.8 0 0 1 1.8 -1.8 h1.8 a1.8 1.8 0 0 1 1.8 1.8 v1.4 Z" fill="#555"/>
<text class="cap" x="1390.5" y="413.3">Mike</text>
<circle cx="1516.9" cy="705.6" r="17.5" fill="#000" opacity="0.04"/><circle cx="1516.9" cy="705.3" r="16.1" fill="#e8601c"/>
<path d="M1511.3 696.9 h11.6 a1.6 1.6 0 0 1 1.6 1.6 v15.4 l-3.4 -1.6 h-9.8 a1.6 1.6 0 0 1 -1.6 -1.6 v-12.2 a1.6 1.6 0 0 1 1.6 -1.6 Z" fill="#fff"/>
<path d="M1511.9 707.9 q5.2 3.2 10.4 0" fill="none" stroke="#e8601c" stroke-width="0.9"/>
</svg>
</div></body></html>
